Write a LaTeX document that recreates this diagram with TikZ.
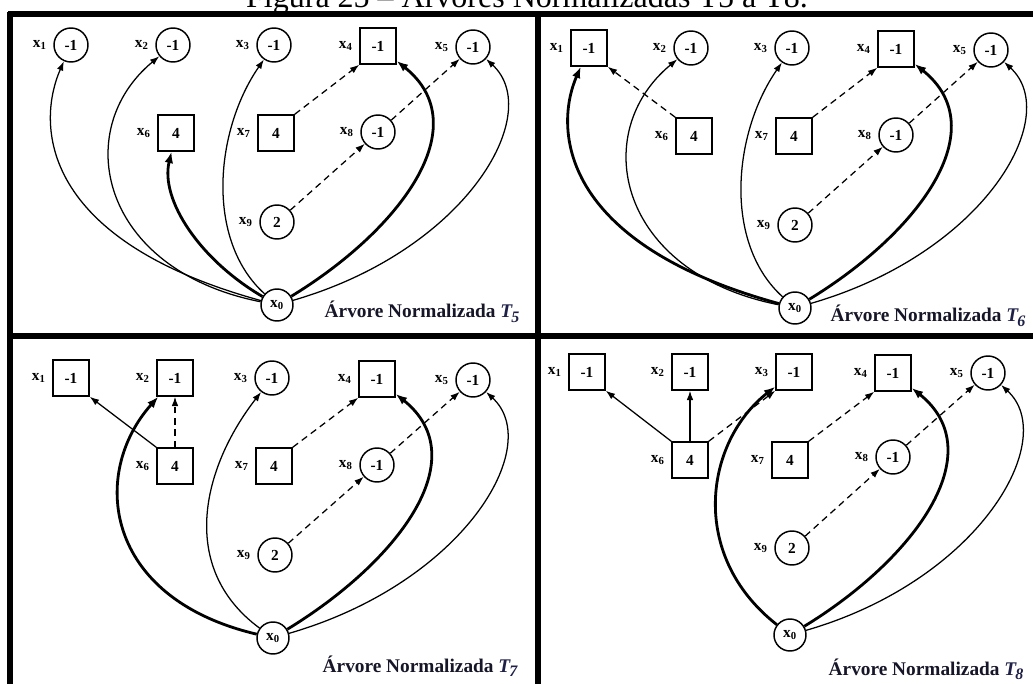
\documentclass[tikz,border=0pt]{standalone}
\usepackage{fontspec}
\setmainfont{Liberation Serif}
\usetikzlibrary{arrows.meta}
\definecolor{capink}{RGB}{22,22,40}
\definecolor{capT}{RGB}{30,32,72}
% vertex label x_i
\newcommand\vlab[1]{x\textsubscript{#1}}
% caption symbol T_k
\newcommand\capT[1]{{\color{capT}\textit{T}\kern-0.08em\raisebox{-0.55ex}{\fontsize{12}{12}\selectfont\textit{#1}}}}

\begin{document}
\begin{tikzpicture}[x=0.75pt,y=-0.75pt,
  every node/.style={font=\fontsize{11.5}{12}\selectfont\bfseries},
  cnode/.style={circle,draw,line width=1.1pt,minimum size=25.5pt,inner sep=0pt},
  snode/.style={rectangle,draw,line width=1.1pt,minimum size=27pt,inner sep=0pt},
  rnode/.style={circle,draw,line width=1.1pt,minimum size=24pt,inner sep=0pt},
  lbl/.style={label distance=1.5pt,font=\fontsize{11.5}{12}\selectfont\bfseries},
  thinarc/.style={line width=0.95pt,-{Latex[length=7pt,width=5pt]}},
  thickarc/.style={line width=2.1pt,-{Latex[length=8.5pt,width=6.5pt]}},
  dasharc/.style={line width=0.95pt,dash pattern=on 5pt off 3.5pt,-{Latex[length=7pt,width=5pt]}},
  panelrule/.style={line width=3.9pt},
  treecap/.style={anchor=base west,font=\fontsize{14.5}{16}\selectfont\bfseries,text=capink},
]
\useasboundingbox (0,0) rectangle (1033,684);
\clip (0,0) rectangle (1033,684);
\fill[white] (0,0) rectangle (1033,684);

% heading
\node[anchor=base,font=\fontsize{24}{26}\selectfont\mdseries] (title) at (527,8)
  {Figura 25 – Árvores Normalizadas T5 a T8.};

% panel rules
\draw[panelrule] (8,14) -- (1033,14);
\draw[panelrule] (10,12) -- (10,684);
\draw[panelrule] (538,12) -- (538,684);
\draw[panelrule] (8,336) -- (1033,336);

% ---------------- tree T5 ----------------
\begin{scope}
\node[cnode,label={[lbl]left:\vlab{1}}] (a1) at (71,45) {-1};
\node[cnode,label={[lbl]left:\vlab{2}}] (a2) at (173,45) {-1};
\node[cnode,label={[lbl]left:\vlab{3}}] (a3) at (274,45) {-1};
\node[snode,label={[lbl]left:\vlab{4}}] (a4) at (378,46) {-1};
\node[cnode,label={[lbl]left:\vlab{5}}] (a5) at (473,47) {-1};
\node[snode,label={[lbl]left:\vlab{6}}] (a6) at (176,133) {4};
\node[snode,label={[lbl]left:\vlab{7}}] (a7) at (276,133) {4};
\node[cnode,label={[lbl]left:\vlab{8}}] (a8) at (378,132) {-1};
\node[cnode,label={[lbl]left:\vlab{9}}] (a9) at (277,222) {2};
\node[rnode] (a0) at (277,305) {\vlab{0}};
\draw[thinarc]  (a0) .. controls +(-237,-65) and +(-35,80) .. (a1);
\draw[thinarc]  (a0) .. controls +(-177,-35) and +(-103,85) .. (a2);
\draw[thickarc] (a0) .. controls +(-77,-45) and +(-16,67) .. (a6);
\draw[thinarc]  (a0) .. controls +(-72,-65) and +(-59,85) .. (a3);
\draw[thickarc] (a0) .. controls +(123,-75) and +(100,80) .. (a4);
\draw[thinarc]  (a0) .. controls +(190,-55) and +(72,66) .. (a5);
\draw[dasharc] (a7.north east) -- (a4.south west);
\draw[dasharc] (a8) -- (a5);
\draw[dasharc] (a9) -- (a8);
\end{scope}

% ---------------- tree T6 ----------------
\begin{scope}[shift={(518,3)}]
\node[snode,label={[lbl]left:\vlab{1}}] (b1) at (71,45) {-1};
\node[cnode,label={[lbl]left:\vlab{2}}] (b2) at (173,45) {-1};
\node[cnode,label={[lbl]left:\vlab{3}}] (b3) at (274,45) {-1};
\node[snode,label={[lbl]left:\vlab{4}}] (b4) at (378,46) {-1};
\node[cnode,label={[lbl]left:\vlab{5}}] (b5) at (473,47) {-1};
\node[snode,label={[lbl]left:\vlab{6}}] (b6) at (176,133) {4};
\node[snode,label={[lbl]left:\vlab{7}}] (b7) at (276,133) {4};
\node[cnode,label={[lbl]left:\vlab{8}}] (b8) at (378,132) {-1};
\node[cnode,label={[lbl]left:\vlab{9}}] (b9) at (277,222) {2};
\node[rnode] (b0) at (277,305) {\vlab{0}};
\draw[thickarc] (b0) .. controls +(-237,-65) and +(-35,80) .. (b1);
\draw[thinarc]  (b0) .. controls +(-177,-35) and +(-103,85) .. (b2);
\draw[thinarc]  (b0) .. controls +(-72,-65) and +(-59,85) .. (b3);
\draw[thickarc] (b0) .. controls +(123,-75) and +(100,80) .. (b4);
\draw[thinarc]  (b0) .. controls +(190,-55) and +(72,66) .. (b5);
\draw[dasharc] (b6.north west) -- (b1.south east);
\draw[dasharc] (b7.north east) -- (b4.south west);
\draw[dasharc] (b8) -- (b5);
\draw[dasharc] (b9) -- (b8);
\end{scope}

% ---------------- tree T7 ----------------
\begin{scope}[shift={(0,333)}]
\node[snode,label={[lbl]left:\vlab{1}}] (c1) at (71,45) {-1};
\node[snode,label={[lbl]left:\vlab{2}}] (c2) at (175,45) {-1};
\node[cnode,label={[lbl]left:\vlab{3}}] (c3) at (272,45) {-1};
\node[snode,label={[lbl]left:\vlab{4}}] (c4) at (377,46) {-1};
\node[cnode,label={[lbl]left:\vlab{5}}] (c5) at (473,47) {-1};
\node[snode,label={[lbl]left:\vlab{6}}] (c6) at (175,133) {4};
\node[snode,label={[lbl]left:\vlab{7}}] (c7) at (274,133) {4};
\node[cnode,label={[lbl]left:\vlab{8}}] (c8) at (377,132) {-1};
\node[cnode,label={[lbl]left:\vlab{9}}] (c9) at (275,222) {2};
\node[rnode] (c0) at (273,305) {\vlab{0}};
\draw[thickarc] (c0) .. controls +(-170,-40) and +(-85,95) .. (c2);
\draw[thinarc]  (c6.north west) -- (c1.south east);
\draw[dasharc]  (c6.north) -- (c2.south);
\draw[thinarc]  (c0) .. controls +(-95,-70) and +(-70,90) .. (c3);
\draw[thickarc] (c0) .. controls +(123,-75) and +(100,80) .. (c4);
\draw[thinarc]  (c0) .. controls +(190,-55) and +(72,66) .. (c5);
\draw[dasharc] (c7.north east) -- (c4.south west);
\draw[dasharc] (c8) -- (c5);
\draw[dasharc] (c9) -- (c8);
\end{scope}

% ---------------- tree T8 ----------------
\begin{scope}[shift={(516,327)}]
\node[snode,label={[lbl]left:\vlab{1}}] (d1) at (71,45) {-1};
\node[snode,label={[lbl]left:\vlab{2}}] (d2) at (174,45) {-1};
\node[snode,label={[lbl]left:\vlab{3}}] (d3) at (278,45) {-1};
\node[snode,label={[lbl]left:\vlab{4}}] (d4) at (377,46) {-1};
\node[cnode,label={[lbl]left:\vlab{5}}] (d5) at (472,46) {-1};
\node[snode,label={[lbl]left:\vlab{6}}] (d6) at (174,133) {4};
\node[snode,label={[lbl]left:\vlab{7}}] (d7) at (274,133) {4};
\node[cnode,label={[lbl]left:\vlab{8}}] (d8) at (377,130) {-1};
\node[cnode,label={[lbl]left:\vlab{9}}] (d9) at (276,221) {2};
\node[rnode] (d0) at (274,308) {\vlab{0}};
\draw[thinarc]  (d6.north west) -- (d1.south east);
\draw[thinarc]  (d6.north) -- (d2.south);
\draw[dasharc]  (d6.north east) -- (d3.south west);
\draw[thickarc] (d0) .. controls +(-102,-80) and +(-89,70) .. (d3);
\draw[thickarc] (d0) .. controls +(123,-75) and +(100,80) .. (d4);
\draw[thinarc]  (d0) .. controls +(190,-55) and +(72,66) .. (d5);
\draw[dasharc] (d7.north east) -- (d4.south west);
\draw[dasharc] (d8) -- (d5);
\draw[dasharc] (d9) -- (d8);
\end{scope}

% captions
\node[treecap] (capa) at (320,318) {Árvore Normalizada \capT{5}};
\node[treecap] (capb) at (826,322) {Árvore Normalizada \capT{6}};
\node[treecap] (capc) at (318,672) {Árvore Normalizada \capT{7}};
\node[treecap] (capd) at (824,675) {Árvore Normalizada \capT{8}};
\end{tikzpicture}
\end{document}
